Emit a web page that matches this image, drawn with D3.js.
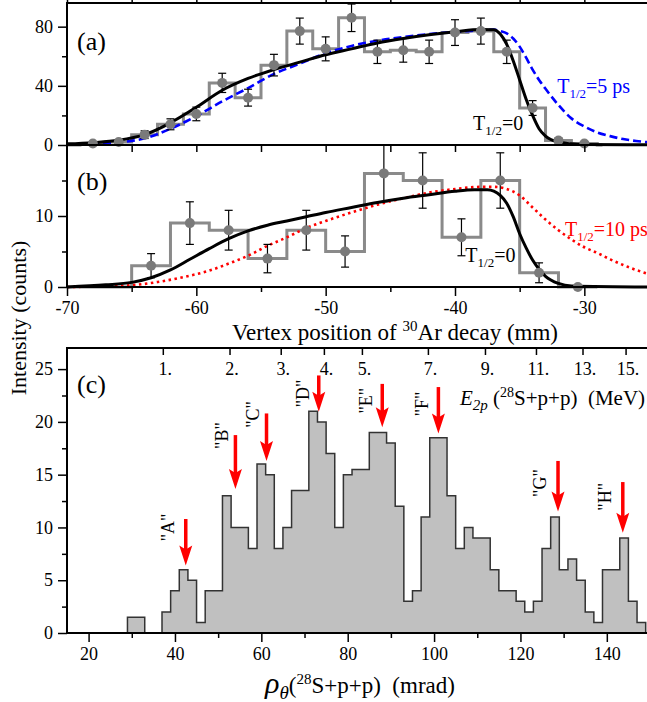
<!DOCTYPE html>
<html lang="en">
<head>
  <meta charset="UTF-8"/>
  <title>30Ar decay vertex and 28S+p+p angular spectrum</title>
  <script src="https://d3js.org/d3.v7.min.js"></script>
  <style>
    body { margin: 0; background: #fff; }
    svg { display: block; }
    svg text { font-family: 'Liberation Serif', 'Times New Roman', serif; }
    .tick text { font-size: 18px; }
    .tick line { stroke: #000; stroke-width: 1.5; }
    .frame { fill: none; stroke: #000; stroke-width: 2; }
    .pre { white-space: pre; }
  </style>
</head>
<body>
<svg width="647" height="702"></svg>
<script>
  // ---- panel (a): 2 mm bins
  const mmA = [-68, -66, -64, -62, -60, -58, -56, -54, -52, -50, -48, -46, -44, -42, -40, -38, -36, -34, -32, -30];
  const countsA = [1, 2, 7, 14, 21, 42, 32, 54, 77, 65, 86, 63, 64, 63, 76, 77, 63, 25, 3, 1];
  const errA = [1, 1.4, 2.6, 3.7, 4.6, 6.5, 5.7, 7.3, 8.8, 8.1, 9.3, 7.9, 8, 7.9, 8.7, 8.8, 7.9, 5, 1.7, 1];

  // T1/2 = 0 curve (a)
  const fitA0X = [-70, -68, -66, -64, -62, -60, -58, -56, -54, -52, -50, -48, -46, -44, -42, -40, -38, -37, -36.5, -36, -35.5, -35, -34.5, -34, -33.5, -33, -32, -31, -30, -25];
  const fitA0Y = [0.8, 1.6, 3.2, 7, 15, 25.5, 37, 45, 51, 56, 61, 65, 69, 72, 74.5, 76.5, 78, 78, 75, 68, 57, 44, 31, 20, 11, 6, 2, 0.8, 0.4, 0.1];
  // T1/2 = 5 ps curve (a)
  const fitA5X = [-70, -68, -66, -64, -62, -60, -58, -56, -54, -52, -50, -48, -46, -44, -42, -40, -38, -37, -36.5, -36, -35.5, -35, -34.5, -34, -33.5, -33, -32, -31, -30, -29, -28, -27, -26, -25];
  const fitA5Y = [0.3, 0.8, 1.8, 4.5, 11, 19.5, 29.5, 38.5, 48, 55, 62, 67, 70.5, 73, 75, 76.5, 77.5, 78, 77, 75.5, 72, 66.5, 59, 51, 44, 38, 27, 18, 12.5, 8.5, 6, 4, 2.7, 1.8];

  // ---- panel (b): 3 mm bins
  const mmB = [-63.5, -60.5, -57.5, -54.5, -51.5, -48.5, -45.5, -42.5, -39.5, -36.5, -33.5, -30.5];
  const countsB = [3, 9, 8, 4, 8, 5, 16, 15, 7, 15, 2, 0];
  const errB = [1.7, 3, 2.8, 2, 2.8, 2.2, 4, 3.9, 2.6, 3.9, 1.4, 0];

  const fitB0X = [-70, -67, -65, -63.5, -62, -60.5, -59, -57.5, -56, -54.5, -53, -51.5, -50, -48, -46, -44, -42, -40, -38.5, -37.5, -37, -36.5, -36, -35.5, -35, -34.5, -34, -33.5, -33, -32, -31, -25];
  const fitB0Y = [0, 0.3, 0.65, 1.3, 2.4, 3.9, 5.4, 6.8, 7.9, 8.7, 9.3, 9.9, 10.5, 11.2, 11.9, 12.5, 13, 13.5, 13.7, 13.7, 13.5, 12.9, 11.8, 9.9, 7.5, 5.5, 3.8, 2.5, 1.5, 0.5, 0.15, 0];
  const fitB10X = [-70, -67, -65, -63, -61, -59, -57.5, -56, -54.5, -53, -51.5, -50, -48, -46, -44, -42, -40, -38, -37, -36, -35, -34, -33, -32, -31, -30, -29, -28, -27, -26, -25];
  const fitB10Y = [0, 0.1, 0.25, 0.7, 1.4, 2.3, 3.3, 4.4, 5.8, 7, 8.3, 9.3, 10.5, 11.6, 12.5, 13.3, 13.8, 14.1, 14.1, 13.8, 12.9, 11.2, 9.5, 8, 6.7, 5.6, 4.8, 3.9, 3.1, 2.4, 1.8];

  // ---- panel (c): 2 mrad bins, lower edges
  const rhoEdges = [29, 31, 33, 35, 37, 39, 41, 43, 45, 47, 49, 51, 53, 55, 57, 59, 61, 63, 65, 67, 69, 71, 73, 75, 77, 79, 81, 83, 85, 87,
                    89, 91, 93, 95, 97, 99, 101, 103, 105, 107, 109, 111, 113, 115, 117, 119, 121, 123, 125, 127, 129, 131, 133, 135, 137, 139, 141, 143, 145, 147];
  const countsC = [1.5, 1.5, 0, 0, 2, 4, 6, 5, 1, 4, 4, 13, 10, 10, 8, 16, 15, 8, 10, 13.5, 13.5, 21, 20, 17, 10, 15, 15.5, 15.5, 19, 19,
                   18, 12, 3, 4, 11, 18.5, 18.5, 13, 8, 10, 9, 9, 6, 4, 4, 3, 2, 3, 8, 11, 6, 7, 5, 2, 1, 6, 6, 9, 3, 1];

  const peakNames = ['A', 'B', 'C', 'D', 'E', 'F', 'G', 'H'];
  const peakRho = [42.5, 54, 61.2, 73.3, 88, 101, 128.7, 143.7];
  const arrowTop = [10.8, 18.75, 20.8, 24.4, 23.6, 23.3, 16.3, 14.3];
  const arrowTip = [6.4, 13.65, 16.3, 20.95, 19.5, 18.9, 11.5, 9.5];
  const labelRho = [38.4, 51.0, 58.1, 69.7, 84.3, 97.1, 124.6, 139.6];
  const labelVal = [10, 18.7, 20.7, 22.7, 22, 21.7, 14.2, 12.9];

  const eTicks = [1, 2, 3, 4, 5, 7, 9, 11, 13, 15];

  const svg = d3.select('svg');
  const left = 67;

  const xAB = d3.scaleLinear().domain([-70, -25]).range([left, 649]);
  const yA = d3.scaleLinear().domain([0, 96]).range([145, 3]);
  const yB = d3.scaleLinear().domain([0, 20]).range([287, 145]);
  const xC = d3.scaleLinear().domain([15, 150]).range([left, 650]);
  const yC = d3.scaleLinear().domain([0, 27]).range([633, 348]);
  const eRho = d3.scaleSqrt().domain([0, 1]).range([0, 37.3]);

  function ticks(y, axisFn, scale, values, size, labelled, x) {
    const g = svg.append('g')
      .attr('transform', `translate(${x || 0}, ${y})`)
      .call(axisFn(scale).tickValues(values).tickSize(size).tickSizeOuter(0).tickPadding(5)
        .tickFormat(labelled ? (d) => String(d) : ''));
    g.attr('font-family', null).attr('font-size', null);
    g.select('.domain').remove();
    return g;
  }

  // ---------- panel (a)
  const lineA = d3.line().x((d) => xAB(d[0])).y((d) => yA(d[1]));
  const lineB = d3.line().x((d) => xAB(d[0])).y((d) => yB(d[1]));

  const stepsA = [[-70, 0]].concat(mmA.map((m, i) => [m - 1, countsA[i]])).concat([[-29, 0], [-28.6, 0]]);
  svg.append('path')
    .attr('d', lineA.curve(d3.curveStepAfter)(stepsA))
    .attr('fill', 'none').attr('stroke', '#8a8a8a').attr('stroke-width', 3);

  svg.append('path')
    .attr('d', lineA.curve(d3.curveMonotoneX)(fitA5X.map((x, i) => [x, fitA5Y[i]])))
    .attr('fill', 'none').attr('stroke', '#0000ff').attr('stroke-width', 2.6).attr('stroke-dasharray', '8,4');
  svg.append('path')
    .attr('d', lineA.curve(d3.curveMonotoneX)(fitA0X.map((x, i) => [x, fitA0Y[i]])))
    .attr('fill', 'none').attr('stroke', '#000').attr('stroke-width', 3);

  const errGA = svg.append('g').attr('stroke', '#000').attr('stroke-width', 1.2);
  mmA.forEach((m, i) => {
    if (!errA[i]) return;
    const x = xAB(m), y1 = yA(countsA[i] - errA[i]), y2 = yA(countsA[i] + errA[i]);
    errGA.append('line').attr('x1', x).attr('x2', x).attr('y1', y1).attr('y2', y2);
    errGA.append('line').attr('x1', x - 4).attr('x2', x + 4).attr('y1', y1).attr('y2', y1);
    errGA.append('line').attr('x1', x - 4).attr('x2', x + 4).attr('y1', y2).attr('y2', y2);
  });
  svg.append('g').selectAll('circle').data(mmA).enter().append('circle')
    .attr('cx', (m) => xAB(m)).attr('cy', (m, i) => yA(countsA[i])).attr('r', 5).attr('fill', '#7a7a7a');

  // ---------- panel (b)
  const stepsB = [[-70, 0]].concat(mmB.map((m, i) => [m - 1.5, countsB[i]])).concat([[-29, 0]]);
  svg.append('path')
    .attr('d', lineB.curve(d3.curveStepAfter)(stepsB))
    .attr('fill', 'none').attr('stroke', '#8a8a8a').attr('stroke-width', 3);

  svg.append('path')
    .attr('d', lineB.curve(d3.curveMonotoneX)(fitB10X.map((x, i) => [x, fitB10Y[i]])))
    .attr('fill', 'none').attr('stroke', '#ff0000').attr('stroke-width', 2.6).attr('stroke-dasharray', '2.5,3.5');
  svg.append('path')
    .attr('d', lineB.curve(d3.curveMonotoneX)(fitB0X.map((x, i) => [x, fitB0Y[i]])))
    .attr('fill', 'none').attr('stroke', '#000').attr('stroke-width', 3);

  const errGB = svg.append('g').attr('stroke', '#000').attr('stroke-width', 1.2);
  mmB.forEach((m, i) => {
    if (!errB[i]) return;
    const x = xAB(m), y1 = yB(countsB[i] - errB[i]), y2 = yB(countsB[i] + errB[i]);
    errGB.append('line').attr('x1', x).attr('x2', x).attr('y1', y1).attr('y2', y2);
    errGB.append('line').attr('x1', x - 4).attr('x2', x + 4).attr('y1', y1).attr('y2', y1);
    errGB.append('line').attr('x1', x - 4).attr('x2', x + 4).attr('y1', y2).attr('y2', y2);
  });
  svg.append('g').selectAll('circle').data(mmB).enter().append('circle')
    .attr('cx', (m) => xAB(m)).attr('cy', (m, i) => yB(countsB[i])).attr('r', 5).attr('fill', '#7a7a7a');

  // ---------- panel (c)
  const histC = rhoEdges.map((r, i) => [r, countsC[i]]);
  histC.unshift([29, 0]);
  histC.push([149, 0]);
  svg.append('path')
    .attr('d', d3.area().curve(d3.curveStepAfter).x((d) => xC(d[0])).y0(yC(0)).y1((d) => yC(d[1]))(histC))
    .attr('fill', '#c0c0c0');
  svg.append('path')
    .attr('d', d3.line().curve(d3.curveStepAfter).x((d) => xC(d[0])).y((d) => yC(d[1]))(histC))
    .attr('fill', 'none').attr('stroke', '#333').attr('stroke-width', 1.5);

  const arrows = svg.append('g').selectAll('g').data(peakNames).enter().append('g');
  arrows.append('line')
    .attr('x1', (d, i) => xC(peakRho[i])).attr('x2', (d, i) => xC(peakRho[i]))
    .attr('y1', (d, i) => yC(arrowTop[i])).attr('y2', (d, i) => yC(arrowTip[i]) - 14)
    .attr('stroke', '#ff0000').attr('stroke-width', 3.5);
  arrows.append('path')
    .attr('d', (d, i) => {
      const x = xC(peakRho[i]), y = yC(arrowTip[i]);
      return `M${x},${y}L${x - 6.5},${y - 20}L${x},${y - 16}L${x + 6.5},${y - 20}Z`;
    })
    .attr('fill', '#ff0000');
  arrows.append('text')
    .attr('transform', (d, i) => `translate(${xC(labelRho[i])}, ${yC(labelVal[i])}) rotate(-90)`)
    .attr('text-anchor', 'middle').attr('dominant-baseline', 'central')
    .attr('font-size', 18)
    .text((d) => `"${d}"`);

  // ---------- axes & frames
  svg.append('path').attr('class', 'frame')
    .attr('d', `M${left},287V3H652M${left},145H652M${left},287H652`);
  svg.append('path').attr('class', 'frame')
    .attr('d', `M${left},633V348H652M${left},633H652`);

  // (a)
  ticks(0, d3.axisLeft, yA, [0, 40, 80], 9, true, left);
  ticks(0, d3.axisLeft, yA, [20, 60], 5, false, left);
  ticks(3, d3.axisTop, xAB, d3.range(-70, -24, 5), 7, false);
  ticks(145, d3.axisBottom, xAB, d3.range(-65, -24, 5), 7, false);
  // (b)
  ticks(0, d3.axisLeft, yB, [0, 10], 9, true, left);
  ticks(0, d3.axisLeft, yB, [5, 15], 5, false, left);
  ticks(287, d3.axisBottom, xAB, [-70, -60, -50, -40, -30], 9, true);
  ticks(287, d3.axisBottom, xAB, [-65, -55, -45, -35, -25], 5, false);
  // (c)
  ticks(0, d3.axisLeft, yC, [0, 5, 10, 15, 20, 25], 9, true, left);
  ticks(0, d3.axisLeft, yC, [2.5, 7.5, 12.5, 17.5, 22.5], 5, false, left);
  ticks(633, d3.axisBottom, xC, [20, 40, 60, 80, 100, 120, 140], 9, true);
  ticks(633, d3.axisBottom, xC, [30, 50, 70, 90, 110, 130, 150], 5, false);

  // top energy axis of (c)
  const eAxis = svg.append('g');
  eAxis.selectAll('line').data(eTicks).enter().append('line')
    .attr('x1', (e) => xC(eRho(e))).attr('x2', (e) => xC(eRho(e)))
    .attr('y1', 348).attr('y2', 355).attr('stroke', '#000').attr('stroke-width', 1.5);
  eAxis.selectAll('text').data(eTicks).enter().append('text')
    .attr('x', (e) => xC(eRho(e)) + 2).attr('y', 375)
    .attr('text-anchor', 'middle').attr('font-size', 18)
    .text((e) => `${e}.`);

  // ---------- labels
  svg.append('text').attr('x', 77).attr('y', 50).attr('font-size', 26).text('(a)');
  svg.append('text').attr('x', 77).attr('y', 190).attr('font-size', 26).text('(b)');
  svg.append('text').attr('x', 77).attr('y', 393).attr('font-size', 26).text('(c)');

  function halfLife(x, y, rest, color) {
    const t = svg.append('text').attr('x', x).attr('y', y).attr('font-size', 20).attr('fill', color);
    t.append('tspan').text('T');
    t.append('tspan').attr('font-size', 13).attr('dy', 5).text('1/2');
    t.append('tspan').attr('dy', -5).text(rest);
  }
  halfLife(xAB(-32.1), yA(35.3), '=5 ps', '#0000ff');
  halfLife(xAB(-38.6), yA(10.3), '=0', '#000');
  halfLife(xAB(-31.5), yB(7.2), '=10 ps', '#ff0000');
  halfLife(xAB(-39.2), yB(3.5), '=0', '#000');

  const xt = svg.append('text').attr('x', 395).attr('y', 340).attr('text-anchor', 'middle').attr('font-size', 23);
  xt.append('tspan').text('Vertex position of ');
  xt.append('tspan').attr('font-size', 15).attr('dy', -9).text('30');
  xt.append('tspan').attr('dy', 9).text('Ar decay (mm)');

  svg.append('text')
    .attr('transform', 'translate(26, 318) rotate(-90)')
    .attr('text-anchor', 'middle').attr('font-size', 22)
    .text('Intensity (counts)');

  const et = svg.append('text').attr('class', 'pre').attr('x', 460).attr('y', 405).attr('font-size', 21);
  et.append('tspan').attr('font-style', 'italic').text('E');
  et.append('tspan').attr('font-style', 'italic').attr('font-size', 15).attr('dy', 5).text('2p');
  et.append('tspan').attr('dy', -5).text(' (');
  et.append('tspan').attr('font-size', 14).attr('dy', -8).text('28');
  et.append('tspan').attr('dy', 8).text('S+p+p)  (MeV)');

  const rt = svg.append('text').attr('class', 'pre').attr('x', 360).attr('y', 693).attr('text-anchor', 'middle').attr('font-size', 23);
  rt.append('tspan').attr('font-style', 'italic').attr('font-size', 30).text('ρ');
  rt.append('tspan').attr('font-style', 'italic').attr('font-size', 19).attr('dy', 6).text('θ');
  rt.append('tspan').attr('dy', -6).text('(');
  rt.append('tspan').attr('font-size', 15).attr('dy', -9).text('28');
  rt.append('tspan').attr('dy', 9).text('S+p+p)  (mrad)');
</script>
</body>
</html>
